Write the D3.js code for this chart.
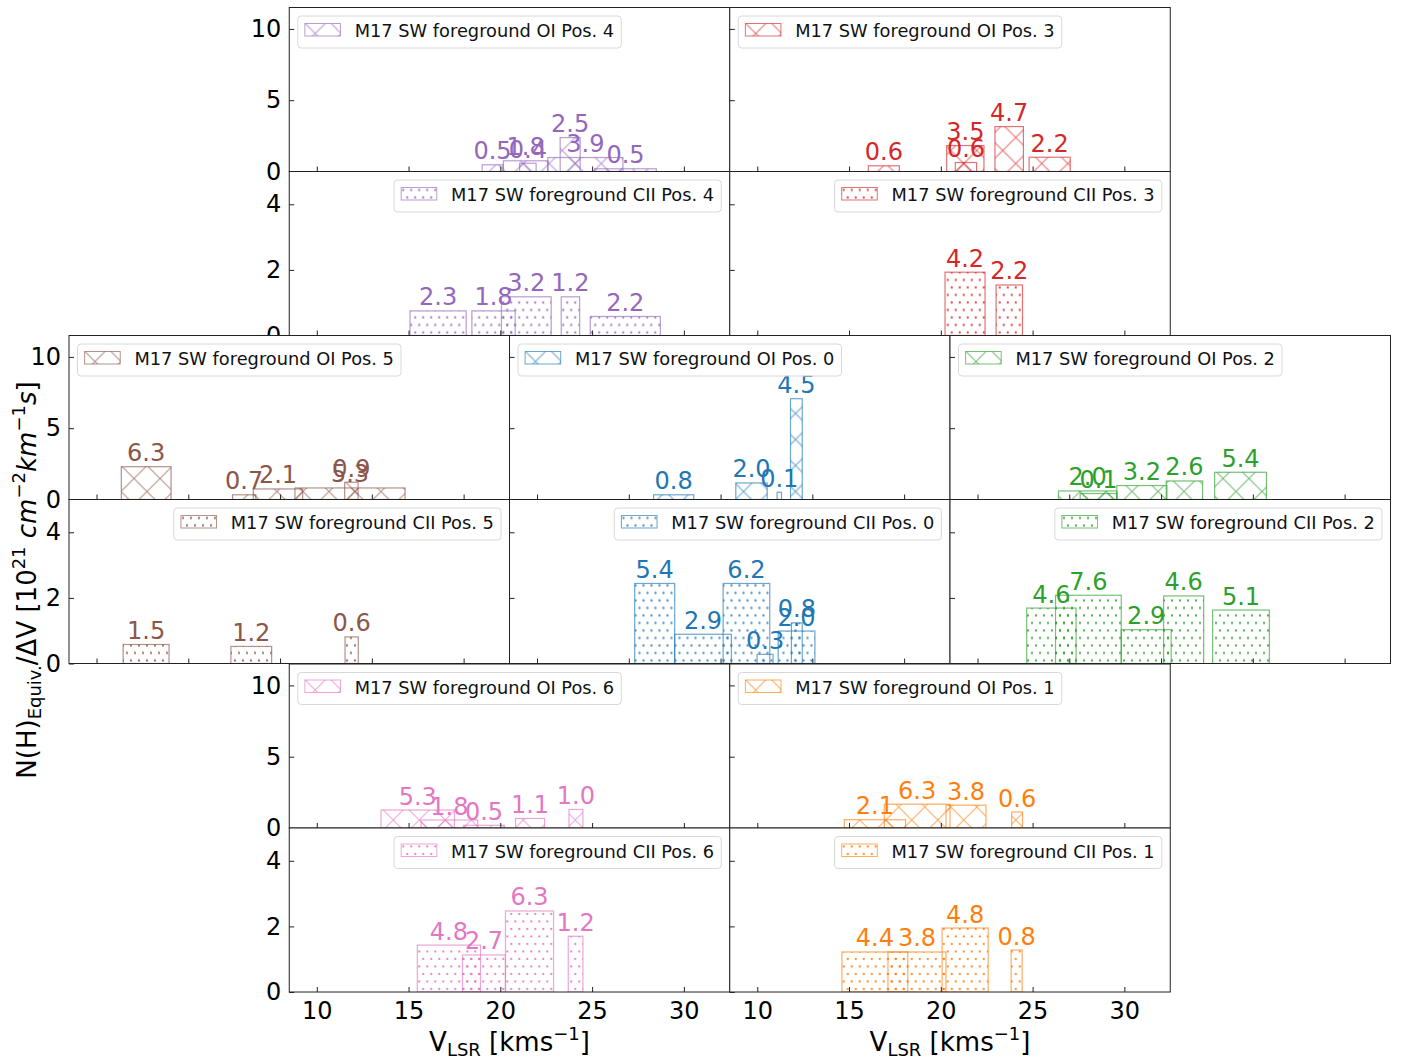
<!DOCTYPE html>
<meta charset="utf-8">
<body style="margin:0;background:#fff">
<div id="chart"></div>
<script src="https://d3js.org/d3.v7.min.js"></script>
<script>

// each bar: velocity range v0..v1 [km/s], N(H)/dV value, printed label
const oiPos4 = [
  {v0: 19.01, v1: 20.14, n: 0.47, t: "0.5"},
  {v0: 20.17, v1: 22.59, n: 0.75, t: "1.8"},
  {v0: 21.05, v1: 21.95, n: 0.58, t: "0.4"},
  {v0: 23.26, v1: 24.35, n: 2.38, t: "2.5"},
  {v0: 22.59, v1: 26.68, n: 0.98, t: "3.9"},
  {v0: 25.14, v1: 28.50, n: 0.19, t: "0.5"}
];
const ciiPos4 = [
  {v0: 15.08, v1: 18.14, n: 0.75, t: "2.3"},
  {v0: 18.45, v1: 20.81, n: 0.75, t: "1.8"},
  {v0: 20.06, v1: 22.77, n: 1.18, t: "3.2"},
  {v0: 23.32, v1: 24.32, n: 1.18, t: "1.2"},
  {v0: 24.90, v1: 28.72, n: 0.58, t: "2.2"}
];
const oiPos3 = [
  {v0: 16.05, v1: 17.74, n: 0.40, t: "0.6"},
  {v0: 20.32, v1: 22.35, n: 1.82, t: "3.5"},
  {v0: 20.79, v1: 21.95, n: 0.63, t: "0.6"},
  {v0: 22.95, v1: 24.50, n: 3.15, t: "4.7"},
  {v0: 24.81, v1: 27.05, n: 1.00, t: "2.2"}
];
const ciiPos3 = [
  {v0: 20.23, v1: 22.41, n: 1.93, t: "4.2"},
  {v0: 23.01, v1: 24.45, n: 1.54, t: "2.2"}
];
const oiPos5 = [
  {v0: 11.35, v1: 14.06, n: 2.30, t: "6.3"},
  {v0: 17.41, v1: 18.68, n: 0.33, t: "0.7"},
  {v0: 18.54, v1: 21.23, n: 0.74, t: "2.1"},
  {v0: 20.81, v1: 26.81, n: 0.81, t: "5.3"},
  {v0: 23.52, v1: 24.25, n: 1.21, t: "0.9"}
];
const ciiPos5 = [
  {v0: 11.45, v1: 13.95, n: 0.58, t: "1.5"},
  {v0: 17.32, v1: 19.54, n: 0.52, t: "1.2"},
  {v0: 23.54, v1: 24.26, n: 0.81, t: "0.6"}
];
const oiPos0 = [
  {v0: 16.35, v1: 18.54, n: 0.33, t: "0.8"},
  {v0: 20.83, v1: 22.54, n: 1.16, t: "2.0"},
  {v0: 23.08, v1: 23.32, n: 0.51, t: "0.1"},
  {v0: 23.81, v1: 24.45, n: 7.07, t: "4.5"}
];
const ciiPos0 = [
  {v0: 15.32, v1: 17.50, n: 2.44, t: "5.4"},
  {v0: 17.50, v1: 20.59, n: 0.89, t: "2.9"},
  {v0: 20.14, v1: 22.68, n: 2.44, t: "6.2"},
  {v0: 21.99, v1: 22.86, n: 0.28, t: "0.3"},
  {v0: 23.14, v1: 25.14, n: 0.99, t: "2.0"},
  {v0: 23.86, v1: 24.45, n: 1.24, t: "0.8"}
];
const oiPos2 = [
  {v0: 14.41, v1: 17.59, n: 0.60, t: "2.0"},
  {v0: 15.59, v1: 17.59, n: 0.42, t: "0.1"},
  {v0: 17.59, v1: 20.32, n: 0.98, t: "3.2"},
  {v0: 20.28, v1: 22.26, n: 1.30, t: "2.6"},
  {v0: 22.92, v1: 25.74, n: 1.91, t: "5.4"}
];
const ciiPos2 = [
  {v0: 12.68, v1: 15.37, n: 1.69, t: "4.6"},
  {v0: 14.25, v1: 17.83, n: 2.08, t: "7.6"},
  {v0: 17.83, v1: 20.55, n: 1.03, t: "2.9"},
  {v0: 20.14, v1: 22.32, n: 2.06, t: "4.6"},
  {v0: 22.81, v1: 25.90, n: 1.63, t: "5.1"}
];
const oiPos6 = [
  {v0: 13.50, v1: 17.50, n: 1.26, t: "5.3"},
  {v0: 15.68, v1: 18.77, n: 0.56, t: "1.8"},
  {v0: 17.99, v1: 20.23, n: 0.19, t: "0.5"},
  {v0: 20.83, v1: 22.41, n: 0.67, t: "1.1"},
  {v0: 23.74, v1: 24.50, n: 1.30, t: "1.0"}
];
const ciiPos6 = [
  {v0: 15.48, v1: 18.92, n: 1.43, t: "4.8"},
  {v0: 17.94, v1: 20.28, n: 1.13, t: "2.7"},
  {v0: 20.28, v1: 22.90, n: 2.47, t: "6.3"},
  {v0: 23.70, v1: 24.50, n: 1.70, t: "1.2"}
];
const oiPos1 = [
  {v0: 14.74, v1: 18.08, n: 0.58, t: "2.1"},
  {v0: 16.92, v1: 20.50, n: 1.67, t: "6.3"},
  {v0: 20.28, v1: 22.46, n: 1.60, t: "3.8"},
  {v0: 23.86, v1: 24.45, n: 1.12, t: "0.6"}
];
const ciiPos1 = [
  {v0: 14.61, v1: 18.20, n: 1.22, t: "4.4"},
  {v0: 17.12, v1: 20.28, n: 1.22, t: "3.8"},
  {v0: 20.07, v1: 22.58, n: 1.95, t: "4.8"},
  {v0: 23.83, v1: 24.43, n: 1.28, t: "0.8"}
];

const xTicks = [10, 15, 20, 25, 30];
const oiTicks = [0, 5, 10];
const ciiTicks = [0, 2, 4];

// panel grid: row, column offset (in half panels), colour
const panels = [
  {pos: "4", row: 0, col: 1, color: "#9467bd", oi: oiPos4, cii: ciiPos4},
  {pos: "3", row: 0, col: 3, color: "#d62728", oi: oiPos3, cii: ciiPos3},
  {pos: "5", row: 1, col: 0, color: "#8c564b", oi: oiPos5, cii: ciiPos5},
  {pos: "0", row: 1, col: 2, color: "#1f77b4", oi: oiPos0, cii: ciiPos0},
  {pos: "2", row: 1, col: 4, color: "#2ca02c", oi: oiPos2, cii: ciiPos2},
  {pos: "6", row: 2, col: 1, color: "#e377c2", oi: oiPos6, cii: ciiPos6},
  {pos: "1", row: 2, col: 3, color: "#ff7f0e", oi: oiPos1, cii: ciiPos1}
];

var W = 1405, H = 1064;
var panelW = 440.5, subH = 164;
var rowTop = [7.5, 335.5, 664];
var baseLeft = 69;
var edgeOp = 0.65;

var svg = d3.select("#chart").append("svg")
  .attr("width", W).attr("height", H)
  .style("font-family", "'DejaVu Sans', sans-serif");

var defs = svg.append("defs");

// hatch patterns for every colour
panels.forEach(function(p) {
  var cross = defs.append("pattern")
    .attr("id", "x" + p.pos).attr("patternUnits", "userSpaceOnUse")
    .attr("width", 26).attr("height", 26);
  cross.append("path")
    .attr("d", "M0,0L26,26M0,26L26,0")
    .attr("stroke", p.color).attr("stroke-opacity", edgeOp)
    .attr("stroke-width", 1.1).attr("fill", "none");

  var dots = defs.append("pattern")
    .attr("id", "d" + p.pos).attr("patternUnits", "userSpaceOnUse")
    .attr("width", 8).attr("height", 15);
  [[2, 3.5], [6, 11]].forEach(function(c) {
    dots.append("circle").attr("cx", c[0]).attr("cy", c[1]).attr("r", 1.15)
      .attr("fill", p.color).attr("fill-opacity", 0.85);
  });
});

var x = d3.scaleLinear().domain([8.5, 32.5]).range([0, panelW]);
var yOI = d3.scaleLinear().domain([0, 11.5]).range([subH, 0]);
var yCII = d3.scaleLinear().domain([0, 5]).range([subH, 0]);

function drawAxes(g, y, ticks, showY, showX) {
  var ay = g.append("g").call(d3.axisLeft(y).tickValues(ticks).tickSize(-5).tickPadding(8)
    .tickFormat(showY ? d3.format("d") : ""));
  ay.select(".domain").remove();
  var ax = g.append("g").attr("transform", "translate(0," + subH + ")")
    .call(d3.axisBottom(x).tickValues(xTicks).tickSize(-5).tickPadding(10)
      .tickFormat(showX ? d3.format("d") : ""));
  ax.select(".domain").remove();
  g.selectAll(".tick line").attr("stroke", "#222");
  g.selectAll(".tick text").attr("font-size", 24).attr("fill", "#000")
    .style("font-family", "'DejaVu Sans', sans-serif");
}

function drawLegend(g, label, fill, color, right) {
  var fs = 17.8;
  var lg = g.append("g");
  var box = lg.append("rect");
  var sw = lg.append("rect");
  var txt = lg.append("text").attr("font-size", fs).attr("fill", "#111").text(label);
  var tw = txt.node().getComputedTextLength();
  var bw = 0.4 * fs + 2 * fs + 0.8 * fs + tw + 0.4 * fs;
  var bx = right ? panelW - 8.5 - bw : 8.5;
  var by = 8.5;
  box.attr("x", bx).attr("y", by).attr("width", bw).attr("height", 32)
    .attr("rx", 3.5).attr("fill", "#fff").attr("fill-opacity", 0.8)
    .attr("stroke", "#d8d8d8");
  sw.attr("x", bx + 0.4 * fs).attr("y", by + 7.5).attr("width", 2 * fs).attr("height", 12.5)
    .attr("fill", fill).attr("stroke", color).attr("stroke-opacity", edgeOp);
  txt.attr("x", bx + 3.2 * fs).attr("y", by + 21);
}

function drawSub(g, data, y, p, kind, ticks, first, lastRow) {
  var clipId = "c" + p.pos + kind;
  g.append("rect").attr("width", panelW).attr("height", subH).attr("fill", "#fff");
  g.append("clipPath").attr("id", clipId)
    .append("rect").attr("width", panelW).attr("height", subH);

  var fill = "url(#" + (kind == "OI" ? "x" : "d") + p.pos + ")";
  g.append("g").attr("clip-path", "url(#" + clipId + ")")
    .selectAll("rect").data(data).enter().append("rect")
      .attr("x", function(d) { return x(d.v0); })
      .attr("y", function(d) { return y(d.n); })
      .attr("width", function(d) { return x(d.v1) - x(d.v0); })
      .attr("height", function(d) { return y(0) - y(d.n); })
      .attr("fill", fill)
      .attr("stroke", p.color).attr("stroke-opacity", edgeOp).attr("stroke-width", 1.2);

  g.append("g").selectAll("text").data(data).enter().append("text")
    .attr("x", function(d) { return x((d.v0 + d.v1) / 2); })
    .attr("y", function(d) { return y(d.n) - 5.5; })
    .attr("text-anchor", "middle").attr("font-size", 24).attr("fill", p.color)
    .text(function(d) { return d.t; });

  drawAxes(g, y, ticks, first, lastRow && kind == "CII");
  g.append("rect").attr("width", panelW).attr("height", subH)
    .attr("fill", "none").attr("stroke", "#222").attr("stroke-width", 1);

  drawLegend(g, "M17 SW foreground " + kind + " Pos. " + p.pos, fill, p.color, kind == "CII");
}

panels.forEach(function(p, i) {
  var left = baseLeft + p.col * panelW / 2;
  var top = rowTop[p.row];
  var first = (i == 0 || i == 2 || i == 5);
  var last = p.row == 2;
  var gOI = svg.append("g").attr("transform", "translate(" + left + "," + top + ")");
  drawSub(gOI, p.oi, yOI, p, "OI", oiTicks, first, last);
  var gC = svg.append("g").attr("transform", "translate(" + left + "," + (top + subH) + ")");
  drawSub(gC, p.cii, yCII, p, "CII", ciiTicks, first, last);
});

// x labels under the bottom row
[1, 3].forEach(function(c) {
  var cx = baseLeft + c * panelW / 2 + panelW / 2;
  var t = svg.append("text").attr("x", cx).attr("y", 1051)
    .attr("text-anchor", "middle").attr("font-size", 26);
  t.append("tspan").text("V");
  t.append("tspan").attr("font-size", 18).attr("dy", 5).text("LSR");
  t.append("tspan").attr("dy", -5).text(" [kms");
  t.append("tspan").attr("font-size", 18).attr("dy", -11).text("\u22121");
  t.append("tspan").attr("dy", 11).text("]");
});

// y label
var yl = svg.append("text").attr("transform", "translate(36,580) rotate(-90)")
  .attr("text-anchor", "middle").attr("font-size", 26);
yl.append("tspan").text("N(H)");
yl.append("tspan").attr("font-size", 18).attr("dy", 5).text("Equiv.");
yl.append("tspan").attr("dy", -5).text("/\u0394V [10");
yl.append("tspan").attr("font-size", 18).attr("dy", -11).text("21");
yl.append("tspan").attr("dy", 11).attr("font-style", "italic").text(" cm");
yl.append("tspan").attr("font-size", 18).attr("dy", -11).text("\u22122");
yl.append("tspan").attr("dy", 11).attr("font-style", "italic").text("km");
yl.append("tspan").attr("font-size", 18).attr("dy", -11).text("\u22121");
yl.append("tspan").attr("dy", 11).attr("font-style", "italic").text("s");
yl.append("tspan").text("]");

</script>
</body>
